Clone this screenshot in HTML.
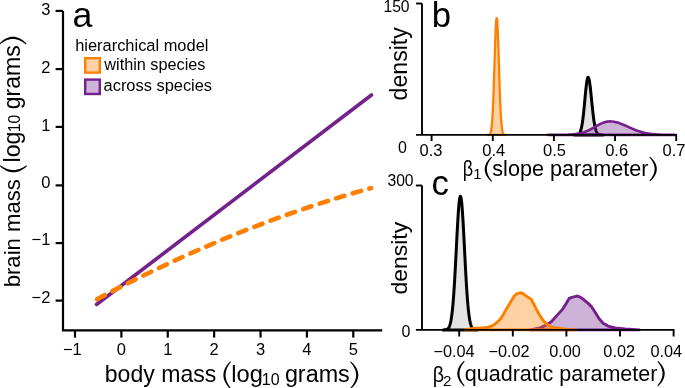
<!DOCTYPE html>
<html><head><meta charset="utf-8"><style>
html,body{margin:0;padding:0;background:#fff;width:685px;height:388px;overflow:hidden}
svg{display:block;position:absolute;left:0;top:0;will-change:transform}
svg text{font-family:"Liberation Sans", sans-serif;fill:#000}
</style></head><body>
<svg width="685" height="388" viewBox="0 0 685 388">
<path d="M63,10.9 L63,330.4 L382.2,330.4" fill="none" stroke="#000" stroke-width="2.2" stroke-linejoin="miter" stroke-linecap="butt"/>
<line x1="55.6" y1="10.9" x2="63" y2="10.9" stroke="#000" stroke-width="2.2" stroke-linecap="butt" />
<line x1="55.6" y1="69.1" x2="63" y2="69.1" stroke="#000" stroke-width="2.2" stroke-linecap="butt" />
<line x1="55.6" y1="126.9" x2="63" y2="126.9" stroke="#000" stroke-width="2.2" stroke-linecap="butt" />
<line x1="55.6" y1="185.4" x2="63" y2="185.4" stroke="#000" stroke-width="2.2" stroke-linecap="butt" />
<line x1="55.6" y1="243.1" x2="63" y2="243.1" stroke="#000" stroke-width="2.2" stroke-linecap="butt" />
<line x1="55.6" y1="300.6" x2="63" y2="300.6" stroke="#000" stroke-width="2.2" stroke-linecap="butt" />
<text id="ay0" x="50.4" y="15.3" font-size="16.5" text-anchor="end" >3</text>
<text id="ay1" x="50.4" y="73.3" font-size="16.5" text-anchor="end" >2</text>
<text id="ay2" x="50.4" y="131.0" font-size="16.5" text-anchor="end" >1</text>
<text id="ay3" x="50.4" y="188.0" font-size="16.5" text-anchor="end" >0</text>
<text id="ay4" x="50.4" y="245.0" font-size="16.5" text-anchor="end" >&#8722;1</text>
<text id="ay5" x="50.4" y="302.8" font-size="16.5" text-anchor="end" >&#8722;2</text>
<line x1="75.0" y1="330.4" x2="75.0" y2="337.6" stroke="#000" stroke-width="2.2" stroke-linecap="butt" />
<text id="ax0" x="72.4" y="354.8" font-size="16.5" text-anchor="middle" >&#8722;1</text>
<line x1="121.38" y1="330.4" x2="121.38" y2="337.6" stroke="#000" stroke-width="2.2" stroke-linecap="butt" />
<text id="ax1" x="121.38" y="354.8" font-size="16.5" text-anchor="middle" >0</text>
<line x1="167.76" y1="330.4" x2="167.76" y2="337.6" stroke="#000" stroke-width="2.2" stroke-linecap="butt" />
<text id="ax2" x="167.76" y="354.8" font-size="16.5" text-anchor="middle" >1</text>
<line x1="214.14000000000001" y1="330.4" x2="214.14000000000001" y2="337.6" stroke="#000" stroke-width="2.2" stroke-linecap="butt" />
<text id="ax3" x="214.14" y="354.8" font-size="16.5" text-anchor="middle" >2</text>
<line x1="260.52" y1="330.4" x2="260.52" y2="337.6" stroke="#000" stroke-width="2.2" stroke-linecap="butt" />
<text id="ax4" x="260.52" y="354.8" font-size="16.5" text-anchor="middle" >3</text>
<line x1="306.9" y1="330.4" x2="306.9" y2="337.6" stroke="#000" stroke-width="2.2" stroke-linecap="butt" />
<text id="ax5" x="306.9" y="354.8" font-size="16.5" text-anchor="middle" >4</text>
<line x1="353.28000000000003" y1="330.4" x2="353.28000000000003" y2="337.6" stroke="#000" stroke-width="2.2" stroke-linecap="butt" />
<text id="ax6" x="353.28" y="354.8" font-size="16.5" text-anchor="middle" >5</text>
<line x1="96.5" y1="304.5" x2="371.5" y2="95.0" stroke="#74218C" stroke-width="3.6" stroke-linecap="round"/>
<path d="M97.10,299.22 Q234.10,226.09 371.10,188.07" fill="none" stroke="#FF7F00" stroke-width="4.6" stroke-linecap="round" stroke-dasharray="8.66 8.66"/>
<text id="la" transform="translate(72.47,26.84) scale(1.0211,1.0211)" font-family="'Liberation Sans', sans-serif" font-size="35">a</text>
<text id="leg0" transform="translate(75.15,50.50) scale(0.9962,0.9962)" font-family="'Liberation Sans', sans-serif" font-size="16.5">hierarchical model</text>
<rect x="85.2" y="58.2" width="14.6" height="14.4" fill="rgba(255,127,0,0.35)" stroke="#FF7F00" stroke-width="2.4"/>
<rect x="85.2" y="79.6" width="14.6" height="14.4" fill="rgba(116,33,140,0.35)" stroke="#74218C" stroke-width="2.4"/>
<text id="leg1" transform="translate(104.30,70.10) scale(0.9853,0.9853)" font-family="'Liberation Sans', sans-serif" font-size="16.5">within species</text>
<text id="leg2" transform="translate(103.55,91.10) scale(0.9949,0.9949)" font-family="'Liberation Sans', sans-serif" font-size="16.5">across species</text>
<text id="xa1" transform="translate(104.80,381.60) scale(1.0023,1.0023)" font-family="'Liberation Sans', sans-serif" font-size="23">body mass</text>
<path id="xa2" d="M230.87,362.03 L230.33,362.72 L229.82,363.41 L229.34,364.10 L228.90,364.78 L228.48,365.46 L228.09,366.13 L227.74,366.80 L227.41,367.46 L227.11,368.12 L226.84,368.78 L226.60,369.43 L226.39,370.07 L226.20,370.71 L226.04,371.35 L225.90,371.98 L225.79,372.61 L225.71,373.23 L225.65,373.86 L225.61,374.48 L225.60,375.10 L225.61,375.72 L225.65,376.34 L225.71,376.97 L225.79,377.59 L225.90,378.22 L226.04,378.85 L226.20,379.49 L226.39,380.13 L226.60,380.77 L226.84,381.42 L227.11,382.08 L227.41,382.74 L227.74,383.40 L228.09,384.07 L228.48,384.74 L228.90,385.42 L229.34,386.10 L229.82,386.79 L230.33,387.48 L230.87,388.17 L230.13,388.83 L229.50,388.18 L228.90,387.53 L228.33,386.88 L227.78,386.22 L227.27,385.56 L226.79,384.89 L226.33,384.22 L225.91,383.54 L225.52,382.86 L225.16,382.18 L224.83,381.49 L224.53,380.79 L224.27,380.09 L224.04,379.39 L223.85,378.68 L223.69,377.97 L223.56,377.25 L223.47,376.54 L223.42,375.82 L223.40,375.10 L223.42,374.38 L223.47,373.66 L223.56,372.95 L223.69,372.23 L223.85,371.52 L224.04,370.81 L224.27,370.11 L224.53,369.41 L224.83,368.71 L225.16,368.02 L225.52,367.34 L225.91,366.66 L226.33,365.98 L226.79,365.31 L227.27,364.64 L227.78,363.98 L228.33,363.32 L228.90,362.67 L229.50,362.02 L230.13,361.37 Z" fill="#000"/>
<text id="xa3" transform="translate(231.25,381.60) scale(1.0306,1.0306)" font-family="'Liberation Sans', sans-serif" font-size="23">log</text>
<text id="xa4" transform="translate(261.76,385.30) scale(1.0712,1.0712)" font-family="'Liberation Sans', sans-serif" font-size="15">10</text>
<text id="xa5" transform="translate(284.88,381.60) scale(1.0161,1.0161)" font-family="'Liberation Sans', sans-serif" font-size="23">grams</text>
<path id="xa6" d="M350.15,362.05 L350.76,362.75 L351.33,363.44 L351.87,364.12 L352.38,364.81 L352.85,365.49 L353.28,366.16 L353.69,366.83 L354.06,367.50 L354.39,368.16 L354.70,368.81 L354.97,369.46 L355.21,370.11 L355.42,370.74 L355.61,371.38 L355.76,372.01 L355.88,372.63 L355.98,373.25 L356.05,373.87 L356.09,374.48 L356.10,375.10 L356.09,375.72 L356.05,376.33 L355.98,376.95 L355.88,377.57 L355.76,378.19 L355.61,378.82 L355.42,379.46 L355.21,380.09 L354.97,380.74 L354.70,381.39 L354.39,382.04 L354.06,382.70 L353.69,383.37 L353.28,384.04 L352.85,384.71 L352.38,385.39 L351.87,386.08 L351.33,386.76 L350.76,387.45 L350.15,388.15 L350.85,388.85 L351.55,388.21 L352.21,387.56 L352.85,386.90 L353.45,386.25 L354.01,385.59 L354.55,384.92 L355.05,384.25 L355.52,383.58 L355.95,382.90 L356.35,382.21 L356.72,381.52 L357.04,380.83 L357.33,380.12 L357.59,379.42 L357.80,378.71 L357.98,377.99 L358.12,377.27 L358.22,376.55 L358.28,375.82 L358.30,375.10 L358.28,374.38 L358.22,373.65 L358.12,372.93 L357.98,372.21 L357.80,371.49 L357.59,370.78 L357.33,370.08 L357.04,369.37 L356.72,368.68 L356.35,367.99 L355.95,367.30 L355.52,366.62 L355.05,365.95 L354.55,365.28 L354.01,364.61 L353.45,363.95 L352.85,363.30 L352.21,362.64 L351.55,361.99 L350.85,361.35 Z" fill="#000"/>
<text id="ya1" transform="translate(20.40,287.34) rotate(-90) scale(0.9633,0.9633)" font-family="'Liberation Sans', sans-serif" font-size="23">brain mass</text>
<path id="ya2" d="M0.32,165.21 L1.01,165.71 L1.70,166.17 L2.39,166.61 L3.07,167.01 L3.75,167.39 L4.42,167.74 L5.09,168.07 L5.75,168.36 L6.41,168.63 L7.07,168.88 L7.72,169.09 L8.36,169.29 L9.00,169.46 L9.64,169.60 L10.27,169.73 L10.90,169.82 L11.53,169.90 L12.15,169.96 L12.78,169.99 L13.40,170.00 L14.02,169.99 L14.65,169.96 L15.27,169.90 L15.90,169.82 L16.53,169.73 L17.16,169.60 L17.80,169.46 L18.44,169.29 L19.08,169.09 L19.73,168.88 L20.39,168.63 L21.05,168.36 L21.71,168.07 L22.38,167.74 L23.05,167.39 L23.73,167.01 L24.41,166.61 L25.10,166.17 L25.79,165.71 L26.48,165.21 L27.12,165.99 L26.47,166.57 L25.82,167.14 L25.17,167.67 L24.51,168.18 L23.85,168.66 L23.18,169.12 L22.51,169.54 L21.83,169.94 L21.15,170.31 L20.47,170.65 L19.78,170.96 L19.08,171.24 L18.38,171.48 L17.68,171.70 L16.97,171.88 L16.26,172.03 L15.55,172.15 L14.83,172.23 L14.12,172.28 L13.40,172.30 L12.68,172.28 L11.97,172.23 L11.25,172.15 L10.54,172.03 L9.83,171.88 L9.12,171.70 L8.42,171.48 L7.72,171.24 L7.02,170.96 L6.33,170.65 L5.65,170.31 L4.97,169.94 L4.29,169.54 L3.62,169.12 L2.95,168.66 L2.29,168.18 L1.63,167.67 L0.98,167.14 L0.33,166.57 L-0.32,165.99 Z" fill="#000"/>
<text id="ya3" transform="translate(20.40,162.51) rotate(-90) scale(1.0090,1.0090)" font-family="'Liberation Sans', sans-serif" font-size="23">log</text>
<text id="ya4" transform="translate(19.50,132.21) rotate(-90) scale(1.0441,1.0441)" font-family="'Liberation Sans', sans-serif" font-size="15">10</text>
<text id="ya5" transform="translate(20.20,109.20) rotate(-90) scale(1.0016,1.0016)" font-family="'Liberation Sans', sans-serif" font-size="23">grams</text>
<path id="ya6" d="M-0.16,44.56 L0.54,43.99 L1.23,43.45 L1.92,42.95 L2.60,42.47 L3.28,42.03 L3.96,41.62 L4.63,41.25 L5.30,40.90 L5.96,40.59 L6.61,40.30 L7.26,40.05 L7.90,39.83 L8.54,39.63 L9.18,39.46 L9.80,39.32 L10.43,39.20 L11.05,39.11 L11.67,39.05 L12.28,39.01 L12.90,39.00 L13.52,39.01 L14.13,39.05 L14.75,39.11 L15.37,39.20 L16.00,39.32 L16.62,39.46 L17.26,39.63 L17.90,39.83 L18.54,40.05 L19.19,40.30 L19.84,40.59 L20.50,40.90 L21.17,41.25 L21.84,41.62 L22.52,42.03 L23.20,42.47 L23.88,42.95 L24.57,43.45 L25.26,43.99 L25.96,44.56 L26.64,43.84 L26.00,43.17 L25.35,42.54 L24.70,41.93 L24.04,41.36 L23.38,40.81 L22.72,40.30 L22.05,39.82 L21.38,39.37 L20.70,38.95 L20.01,38.57 L19.32,38.22 L18.62,37.91 L17.92,37.63 L17.22,37.38 L16.50,37.18 L15.79,37.01 L15.07,36.87 L14.35,36.78 L13.62,36.72 L12.90,36.70 L12.18,36.72 L11.45,36.78 L10.73,36.87 L10.01,37.01 L9.30,37.18 L8.58,37.38 L7.88,37.63 L7.18,37.91 L6.48,38.22 L5.79,38.57 L5.10,38.95 L4.42,39.37 L3.75,39.82 L3.08,40.30 L2.42,40.81 L1.76,41.36 L1.10,41.93 L0.45,42.54 L-0.20,43.17 L-0.84,43.84 Z" fill="#000"/>
<path d="M422,3.5 L422,134.9" fill="none" stroke="#000" stroke-width="1.9"/>
<line x1="416.1" y1="3.5" x2="422" y2="3.5" stroke="#000" stroke-width="1.9" stroke-linecap="butt" />
<path d="M487.90,134.90 L487.90,134.86 L488.01,134.85 L488.12,134.84 L488.23,134.83 L488.34,134.81 L488.45,134.80 L488.56,134.77 L488.67,134.75 L488.79,134.72 L488.90,134.68 L489.01,134.64 L489.12,134.59 L489.23,134.53 L489.34,134.47 L489.45,134.39 L489.56,134.30 L489.67,134.19 L489.78,134.07 L489.89,133.93 L490.00,133.77 L490.11,133.58 L490.22,133.37 L490.34,133.12 L490.45,132.85 L490.56,132.54 L490.67,132.18 L490.78,131.78 L490.89,131.34 L491.00,130.83 L491.11,130.27 L491.22,129.65 L491.33,128.96 L491.44,128.19 L491.55,127.34 L491.66,126.41 L491.77,125.38 L491.88,124.26 L492.00,123.04 L492.11,121.71 L492.22,120.26 L492.33,118.71 L492.44,117.02 L492.55,115.22 L492.66,113.29 L492.77,111.23 L492.88,109.03 L492.99,106.71 L493.10,104.25 L493.21,101.66 L493.32,98.95 L493.43,96.11 L493.55,93.16 L493.66,90.09 L493.77,86.92 L493.88,83.66 L493.99,80.31 L494.10,76.89 L494.21,73.41 L494.32,69.89 L494.43,66.34 L494.54,62.78 L494.65,59.23 L494.76,55.70 L494.87,52.22 L494.98,48.80 L495.09,45.47 L495.21,42.24 L495.32,39.14 L495.43,36.19 L495.54,33.40 L495.65,30.80 L495.76,28.40 L495.87,26.22 L495.98,24.28 L496.09,22.58 L496.20,21.15 L496.31,20.00 L496.42,19.12 L496.53,18.53 L496.64,18.24 L496.76,18.24 L496.87,18.53 L496.98,19.12 L497.09,20.00 L497.20,21.15 L497.31,22.58 L497.42,24.28 L497.53,26.22 L497.64,28.40 L497.75,30.80 L497.86,33.40 L497.97,36.19 L498.08,39.14 L498.19,42.24 L498.31,45.47 L498.42,48.80 L498.53,52.22 L498.64,55.70 L498.75,59.23 L498.86,62.78 L498.97,66.34 L499.08,69.89 L499.19,73.41 L499.30,76.89 L499.41,80.31 L499.52,83.66 L499.63,86.92 L499.74,90.09 L499.85,93.16 L499.97,96.11 L500.08,98.95 L500.19,101.66 L500.30,104.25 L500.41,106.71 L500.52,109.03 L500.63,111.23 L500.74,113.29 L500.85,115.22 L500.96,117.02 L501.07,118.71 L501.18,120.26 L501.29,121.71 L501.40,123.04 L501.52,124.26 L501.63,125.38 L501.74,126.41 L501.85,127.34 L501.96,128.19 L502.07,128.96 L502.18,129.65 L502.29,130.27 L502.40,130.83 L502.51,131.34 L502.62,131.78 L502.73,132.18 L502.84,132.54 L502.95,132.85 L503.06,133.12 L503.18,133.37 L503.29,133.58 L503.40,133.77 L503.51,133.93 L503.62,134.07 L503.73,134.19 L503.84,134.30 L503.95,134.39 L504.06,134.47 L504.17,134.53 L504.28,134.59 L504.39,134.64 L504.50,134.68 L504.61,134.72 L504.73,134.75 L504.84,134.77 L504.95,134.80 L505.06,134.81 L505.17,134.83 L505.28,134.84 L505.39,134.85 L505.50,134.86 L505.50,134.90 Z" fill="rgba(255,127,0,0.35)" stroke="#FF7F00" stroke-width="2.3" stroke-linejoin="round"/>
<path d="M574.45,134.90 L574.45,134.89 L574.63,134.89 L574.81,134.89 L574.98,134.88 L575.16,134.88 L575.34,134.87 L575.52,134.87 L575.70,134.86 L575.88,134.85 L576.05,134.84 L576.23,134.83 L576.41,134.81 L576.59,134.79 L576.77,134.77 L576.95,134.74 L577.12,134.71 L577.30,134.67 L577.48,134.62 L577.66,134.57 L577.84,134.51 L578.02,134.43 L578.19,134.35 L578.37,134.25 L578.55,134.13 L578.73,134.00 L578.91,133.85 L579.09,133.67 L579.26,133.47 L579.44,133.24 L579.62,132.98 L579.80,132.69 L579.98,132.36 L580.16,132.00 L580.33,131.58 L580.51,131.13 L580.69,130.62 L580.87,130.05 L581.05,129.43 L581.23,128.75 L581.40,128.00 L581.58,127.19 L581.76,126.31 L581.94,125.35 L582.12,124.32 L582.30,123.21 L582.47,122.03 L582.65,120.77 L582.83,119.43 L583.01,118.02 L583.19,116.53 L583.37,114.97 L583.54,113.34 L583.72,111.66 L583.90,109.91 L584.08,108.11 L584.26,106.28 L584.43,104.40 L584.61,102.50 L584.79,100.59 L584.97,98.68 L585.15,96.77 L585.33,94.88 L585.50,93.03 L585.68,91.22 L585.86,89.46 L586.04,87.79 L586.22,86.19 L586.40,84.70 L586.57,83.31 L586.75,82.04 L586.93,80.91 L587.11,79.91 L587.29,79.07 L587.47,78.39 L587.64,77.86 L587.82,77.51 L588.00,77.33 L588.18,77.31 L588.36,77.46 L588.54,77.74 L588.71,78.18 L588.89,78.76 L589.07,79.47 L589.25,80.32 L589.43,81.30 L589.61,82.39 L589.78,83.60 L589.96,84.90 L590.14,86.30 L590.32,87.79 L590.50,89.34 L590.68,90.96 L590.85,92.63 L591.03,94.35 L591.21,96.09 L591.39,97.86 L591.57,99.63 L591.75,101.41 L591.92,103.18 L592.10,104.94 L592.28,106.67 L592.46,108.37 L592.64,110.04 L592.82,111.66 L592.99,113.22 L593.17,114.74 L593.35,116.20 L593.53,117.60 L593.71,118.93 L593.88,120.20 L594.06,121.41 L594.24,122.55 L594.42,123.62 L594.60,124.62 L594.78,125.56 L594.95,126.44 L595.13,127.25 L595.31,128.00 L595.49,128.70 L595.67,129.34 L595.85,129.93 L596.02,130.46 L596.20,130.95 L596.38,131.39 L596.56,131.80 L596.74,132.16 L596.92,132.49 L597.09,132.78 L597.27,133.04 L597.45,133.28 L597.63,133.48 L597.81,133.67 L597.99,133.83 L598.16,133.98 L598.34,134.10 L598.52,134.22 L598.70,134.31 L598.88,134.40 L599.06,134.47 L599.23,134.53 L599.41,134.59 L599.59,134.64 L599.77,134.68 L599.95,134.71 L600.13,134.74 L600.30,134.77 L600.48,134.79 L600.66,134.81 L600.84,134.82 L601.02,134.84 L601.20,134.85 L601.37,134.86 L601.55,134.86 L601.73,134.87 L601.91,134.88 L602.09,134.88 L602.27,134.88 L602.44,134.89 L602.62,134.89 L602.80,134.89 L602.80,134.90 Z" fill="rgba(0,0,0,0.11)" stroke="#000" stroke-width="3.0" stroke-linejoin="round"/>
<path d="M548.00,134.90 L548.00,134.90 L548.80,134.90 L549.60,134.90 L550.40,134.90 L551.19,134.90 L551.99,134.90 L552.79,134.89 L553.59,134.89 L554.39,134.89 L555.19,134.89 L555.99,134.89 L556.79,134.88 L557.58,134.88 L558.38,134.87 L559.18,134.87 L559.98,134.86 L560.78,134.86 L561.58,134.85 L562.38,134.84 L563.18,134.82 L563.97,134.81 L564.77,134.79 L565.57,134.77 L566.37,134.75 L567.17,134.72 L567.97,134.69 L568.77,134.65 L569.57,134.61 L570.36,134.57 L571.16,134.51 L571.96,134.45 L572.76,134.38 L573.56,134.31 L574.36,134.22 L575.16,134.12 L575.96,134.01 L576.75,133.89 L577.55,133.76 L578.35,133.61 L579.15,133.45 L579.95,133.28 L580.75,133.09 L581.55,132.88 L582.35,132.65 L583.14,132.41 L583.94,132.15 L584.74,131.87 L585.54,131.57 L586.34,131.25 L587.14,130.92 L587.94,130.57 L588.74,130.20 L589.53,129.82 L590.33,129.42 L591.13,129.01 L591.93,128.58 L592.73,128.15 L593.53,127.71 L594.33,127.26 L595.13,126.81 L595.92,126.36 L596.72,125.91 L597.52,125.47 L598.32,125.03 L599.12,124.61 L599.92,124.20 L600.72,123.81 L601.52,123.43 L602.31,123.08 L603.11,122.76 L603.91,122.47 L604.71,122.21 L605.51,121.98 L606.31,121.79 L607.11,121.63 L607.91,121.51 L608.70,121.44 L609.50,121.40 L610.30,121.41 L611.10,121.44 L611.90,121.49 L612.70,121.57 L613.50,121.68 L614.30,121.81 L615.09,121.97 L615.89,122.15 L616.69,122.35 L617.49,122.58 L618.29,122.82 L619.09,123.08 L619.89,123.36 L620.69,123.66 L621.48,123.96 L622.28,124.29 L623.08,124.62 L623.88,124.96 L624.68,125.31 L625.48,125.66 L626.28,126.02 L627.08,126.38 L627.87,126.75 L628.67,127.11 L629.47,127.47 L630.27,127.83 L631.07,128.18 L631.87,128.53 L632.67,128.88 L633.47,129.21 L634.26,129.54 L635.06,129.86 L635.86,130.17 L636.66,130.47 L637.46,130.75 L638.26,131.03 L639.06,131.30 L639.86,131.55 L640.65,131.79 L641.45,132.02 L642.25,132.24 L643.05,132.45 L643.85,132.64 L644.65,132.83 L645.45,133.00 L646.25,133.16 L647.04,133.31 L647.84,133.45 L648.64,133.58 L649.44,133.71 L650.24,133.82 L651.04,133.92 L651.84,134.02 L652.64,134.10 L653.43,134.18 L654.23,134.26 L655.03,134.33 L655.83,134.39 L656.63,134.44 L657.43,134.49 L658.23,134.54 L659.03,134.58 L659.82,134.62 L660.62,134.65 L661.42,134.68 L662.22,134.71 L663.02,134.73 L663.82,134.75 L664.62,134.77 L665.42,134.79 L666.21,134.80 L667.01,134.81 L667.81,134.83 L668.61,134.84 L669.41,134.84 L670.21,134.85 L671.01,134.86 L671.81,134.86 L672.60,134.87 L673.40,134.87 L674.20,134.88 L675.00,134.88 L675.00,134.90 Z" fill="rgba(116,33,140,0.35)" stroke="#74218C" stroke-width="2.6" stroke-linejoin="round"/>
<path d="M416,134.9 L677,134.9" stroke="#000" stroke-width="1.9"/>
<line x1="431.6" y1="134.9" x2="431.6" y2="141" stroke="#000" stroke-width="1.9" stroke-linecap="butt" />
<text id="bx0" x="431.0" y="155.6" font-size="16.5" text-anchor="middle" >0.3</text>
<line x1="492.8" y1="134.9" x2="492.8" y2="141" stroke="#000" stroke-width="1.9" stroke-linecap="butt" />
<text id="bx1" x="493.8" y="155.6" font-size="16.5" text-anchor="middle" >0.4</text>
<line x1="553.9" y1="134.9" x2="553.9" y2="141" stroke="#000" stroke-width="1.9" stroke-linecap="butt" />
<text id="bx2" x="554.5" y="155.6" font-size="16.5" text-anchor="middle" >0.5</text>
<line x1="615.0" y1="134.9" x2="615.0" y2="141" stroke="#000" stroke-width="1.9" stroke-linecap="butt" />
<text id="bx3" x="616.6" y="155.6" font-size="16.5" text-anchor="middle" >0.6</text>
<line x1="676.2" y1="134.9" x2="676.2" y2="141" stroke="#000" stroke-width="1.9" stroke-linecap="butt" />
<text id="bx4" x="674.0" y="155.6" font-size="16.5" text-anchor="middle" >0.7</text>
<text id="b150" x="409.6" y="11.6" font-size="15.7" text-anchor="end" >150</text>
<text id="b0" x="406.8" y="153.2" font-size="16" text-anchor="end" >0</text>
<text id="lb" transform="translate(431.77,26.85) scale(0.9922,0.9922)" font-family="'Liberation Sans', sans-serif" font-size="35">b</text>
<text id="yb" transform="translate(407.00,100.41) rotate(-90) scale(1.0063,1.0063)" font-family="'Liberation Sans', sans-serif" font-size="23">density</text>
<text id="xb1" transform="translate(462.79,175.51) scale(0.8095,0.9756)" font-family="'Liberation Sans', sans-serif" font-size="22.3">&#946;</text>
<text id="xb2" transform="translate(473.18,179.30) scale(1.0200,1.0200)" font-family="'Liberation Sans', sans-serif" font-size="14.5">1</text>
<path id="xb3" d="M492.06,157.45 L491.53,158.08 L491.03,158.70 L490.56,159.32 L490.12,159.94 L489.71,160.56 L489.33,161.17 L488.98,161.77 L488.66,162.37 L488.37,162.97 L488.11,163.56 L487.87,164.14 L487.66,164.72 L487.48,165.29 L487.32,165.86 L487.19,166.42 L487.09,166.98 L487.00,167.54 L486.95,168.10 L486.91,168.65 L486.90,169.20 L486.91,169.75 L486.95,170.30 L487.00,170.86 L487.09,171.42 L487.19,171.98 L487.32,172.54 L487.48,173.11 L487.66,173.68 L487.87,174.26 L488.11,174.84 L488.37,175.43 L488.66,176.03 L488.98,176.63 L489.33,177.23 L489.71,177.84 L490.12,178.46 L490.56,179.08 L491.03,179.70 L491.53,180.32 L492.06,180.95 L491.34,181.65 L490.72,181.07 L490.13,180.48 L489.57,179.89 L489.04,179.30 L488.53,178.71 L488.05,178.11 L487.61,177.50 L487.19,176.89 L486.80,176.28 L486.44,175.66 L486.12,175.03 L485.83,174.40 L485.57,173.76 L485.34,173.12 L485.14,172.47 L484.99,171.82 L484.86,171.17 L484.77,170.52 L484.72,169.86 L484.70,169.20 L484.72,168.54 L484.77,167.88 L484.86,167.23 L484.99,166.58 L485.14,165.93 L485.34,165.28 L485.57,164.64 L485.83,164.00 L486.12,163.37 L486.44,162.74 L486.80,162.12 L487.19,161.51 L487.61,160.90 L488.05,160.29 L488.53,159.69 L489.04,159.10 L489.57,158.51 L490.13,157.92 L490.72,157.33 L491.34,156.75 Z" fill="#000"/>
<text id="xb4" transform="translate(492.27,175.50) scale(0.9694,0.9694)" font-family="'Liberation Sans', sans-serif" font-size="22.3">slope parameter</text>
<path id="xb5" d="M649.35,157.35 L649.89,157.98 L650.40,158.60 L650.88,159.21 L651.32,159.83 L651.74,160.44 L652.13,161.04 L652.48,161.64 L652.81,162.24 L653.11,162.83 L653.37,163.41 L653.61,163.99 L653.83,164.57 L654.01,165.13 L654.17,165.70 L654.30,166.26 L654.41,166.81 L654.49,167.36 L654.55,167.91 L654.59,168.45 L654.60,169.00 L654.59,169.55 L654.55,170.09 L654.49,170.64 L654.41,171.19 L654.30,171.74 L654.17,172.30 L654.01,172.87 L653.83,173.43 L653.61,174.01 L653.37,174.59 L653.11,175.17 L652.81,175.76 L652.48,176.36 L652.13,176.96 L651.74,177.56 L651.32,178.17 L650.88,178.79 L650.40,179.40 L649.89,180.02 L649.35,180.65 L650.05,181.35 L650.68,180.78 L651.28,180.20 L651.85,179.61 L652.40,179.03 L652.91,178.44 L653.39,177.84 L653.85,177.24 L654.27,176.64 L654.66,176.03 L655.03,175.41 L655.36,174.79 L655.65,174.17 L655.92,173.53 L656.15,172.90 L656.35,172.26 L656.51,171.61 L656.64,170.96 L656.73,170.31 L656.78,169.65 L656.80,169.00 L656.78,168.35 L656.73,167.69 L656.64,167.04 L656.51,166.39 L656.35,165.74 L656.15,165.10 L655.92,164.47 L655.65,163.83 L655.36,163.21 L655.03,162.59 L654.66,161.97 L654.27,161.36 L653.85,160.76 L653.39,160.16 L652.91,159.56 L652.40,158.97 L651.85,158.39 L651.28,157.80 L650.68,157.22 L650.05,156.65 Z" fill="#000"/>
<path d="M422,185.5 L422,329.9" fill="none" stroke="#000" stroke-width="1.9"/>
<line x1="415.9" y1="185.5" x2="422" y2="185.5" stroke="#000" stroke-width="1.9" stroke-linecap="butt" />
<path d="M443.18,329.90 L443.18,329.88 L443.40,329.88 L443.61,329.87 L443.83,329.86 L444.05,329.85 L444.26,329.84 L444.48,329.83 L444.70,329.81 L444.91,329.79 L445.13,329.77 L445.35,329.74 L445.56,329.71 L445.78,329.67 L446.00,329.62 L446.21,329.56 L446.43,329.50 L446.65,329.42 L446.86,329.33 L447.08,329.22 L447.30,329.09 L447.51,328.94 L447.73,328.77 L447.95,328.58 L448.16,328.35 L448.38,328.08 L448.60,327.78 L448.81,327.44 L449.03,327.05 L449.24,326.60 L449.46,326.10 L449.68,325.53 L449.89,324.89 L450.11,324.17 L450.33,323.36 L450.54,322.47 L450.76,321.47 L450.98,320.37 L451.19,319.16 L451.41,317.82 L451.63,316.36 L451.84,314.76 L452.06,313.02 L452.28,311.13 L452.49,309.08 L452.71,306.88 L452.93,304.52 L453.14,302.00 L453.36,299.30 L453.58,296.45 L453.79,293.42 L454.01,290.24 L454.23,286.89 L454.44,283.40 L454.66,279.76 L454.88,275.98 L455.09,272.09 L455.31,268.08 L455.53,263.98 L455.74,259.81 L455.96,255.58 L456.18,251.31 L456.39,247.03 L456.61,242.76 L456.83,238.53 L457.04,234.36 L457.26,230.27 L457.48,226.30 L457.69,222.47 L457.91,218.82 L458.13,215.35 L458.34,212.11 L458.56,209.11 L458.78,206.39 L458.99,203.95 L459.21,201.82 L459.43,200.02 L459.64,198.56 L459.86,197.46 L460.08,196.72 L460.29,196.35 L460.51,196.35 L460.72,196.72 L460.94,197.46 L461.16,198.56 L461.37,200.02 L461.59,201.82 L461.81,203.95 L462.02,206.39 L462.24,209.11 L462.46,212.11 L462.67,215.35 L462.89,218.82 L463.11,222.47 L463.32,226.30 L463.54,230.27 L463.76,234.36 L463.97,238.53 L464.19,242.76 L464.41,247.03 L464.62,251.31 L464.84,255.58 L465.06,259.81 L465.27,263.98 L465.49,268.08 L465.71,272.09 L465.92,275.98 L466.14,279.76 L466.36,283.40 L466.57,286.89 L466.79,290.24 L467.01,293.42 L467.22,296.45 L467.44,299.30 L467.66,302.00 L467.87,304.52 L468.09,306.88 L468.31,309.08 L468.52,311.13 L468.74,313.02 L468.96,314.76 L469.17,316.36 L469.39,317.82 L469.61,319.16 L469.82,320.37 L470.04,321.47 L470.26,322.47 L470.47,323.36 L470.69,324.17 L470.91,324.89 L471.12,325.53 L471.34,326.10 L471.56,326.60 L471.77,327.05 L471.99,327.44 L472.20,327.78 L472.42,328.08 L472.64,328.35 L472.85,328.58 L473.07,328.77 L473.29,328.94 L473.50,329.09 L473.72,329.22 L473.94,329.33 L474.15,329.42 L474.37,329.50 L474.59,329.56 L474.80,329.62 L475.02,329.67 L475.24,329.71 L475.45,329.74 L475.67,329.77 L475.89,329.79 L476.10,329.81 L476.32,329.83 L476.54,329.84 L476.75,329.85 L476.97,329.86 L477.19,329.87 L477.40,329.88 L477.62,329.88 L477.62,329.90 Z" fill="rgba(0,0,0,0.11)" stroke="#000" stroke-width="3.0" stroke-linejoin="round"/>
<path d="M530.00,329.90 L540.00,327.90 L545.70,325.40 L551.30,321.80 L557.00,315.40 L562.70,309.10 L566.20,303.40 L569.10,298.40 L571.90,297.30 L574.70,296.70 L577.60,296.00 L580.40,297.30 L583.90,299.80 L588.20,303.40 L591.70,306.90 L595.30,312.60 L598.80,318.30 L603.10,323.20 L608.00,326.10 L615.10,327.90 L625.00,328.90 L639.50,329.90 Z" fill="rgba(116,33,140,0.35)" stroke="#74218C" stroke-width="2.9" stroke-linejoin="round"/>
<path d="M465.00,329.90 L472.80,328.50 L481.30,327.90 L488.40,327.10 L492.70,325.60 L496.90,322.50 L500.50,319.00 L504.00,313.30 L507.60,306.90 L511.10,301.30 L514.60,295.60 L517.50,293.50 L521.00,292.80 L523.10,293.50 L526.00,295.90 L528.80,297.70 L530.90,299.10 L533.80,304.10 L536.60,309.80 L540.20,316.10 L543.70,321.10 L547.20,324.60 L551.50,327.10 L560.00,328.50 L568.00,329.40 L576.00,329.90 Z" fill="rgba(255,127,0,0.35)" stroke="#FF7F00" stroke-width="2.9" stroke-linejoin="round"/>
<path d="M415.9,329.9 L674.4,329.9" stroke="#000" stroke-width="1.9"/>
<line x1="459.2" y1="329.9" x2="459.2" y2="336.5" stroke="#000" stroke-width="1.9" stroke-linecap="butt" />
<text id="cx0" x="454.0" y="356.8" font-size="16.3" text-anchor="middle" >&#8722;0.04</text>
<line x1="512.8" y1="329.9" x2="512.8" y2="336.5" stroke="#000" stroke-width="1.9" stroke-linecap="butt" />
<text id="cx1" x="509.0" y="356.8" font-size="16.3" text-anchor="middle" >&#8722;0.02</text>
<line x1="566.4" y1="329.9" x2="566.4" y2="336.5" stroke="#000" stroke-width="1.9" stroke-linecap="butt" />
<text id="cx2" x="565.0" y="356.8" font-size="16.3" text-anchor="middle" >0.00</text>
<line x1="620.0" y1="329.9" x2="620.0" y2="336.5" stroke="#000" stroke-width="1.9" stroke-linecap="butt" />
<text id="cx3" x="619.2" y="356.8" font-size="16.3" text-anchor="middle" >0.02</text>
<line x1="673.6" y1="329.9" x2="673.6" y2="336.5" stroke="#000" stroke-width="1.9" stroke-linecap="butt" />
<text id="cx4" x="666.3" y="356.8" font-size="16.3" text-anchor="middle" >0.04</text>
<text id="c300" x="413.6" y="185.8" font-size="15.7" text-anchor="end" >300</text>
<text id="c0" x="410.3" y="336.8" font-size="16" text-anchor="end" >0</text>
<text id="lc" transform="translate(431.41,195.45) scale(0.9947,0.9947)" font-family="'Liberation Sans', sans-serif" font-size="35">c</text>
<text id="yc" transform="translate(407.00,294.40) rotate(-90) scale(0.9951,0.9951)" font-family="'Liberation Sans', sans-serif" font-size="23">density</text>
<text id="xc1" transform="translate(432.67,381.54) scale(0.8857,0.9902)" font-family="'Liberation Sans', sans-serif" font-size="22.3">&#946;</text>
<text id="xc2" transform="translate(443.01,385.60) scale(1.0500,1.0500)" font-family="'Liberation Sans', sans-serif" font-size="14.5">2</text>
<path id="xc3" d="M464.66,361.55 L464.13,362.19 L463.63,362.82 L463.16,363.46 L462.72,364.09 L462.31,364.71 L461.93,365.33 L461.58,365.95 L461.26,366.56 L460.97,367.17 L460.71,367.77 L460.47,368.37 L460.26,368.96 L460.08,369.55 L459.93,370.13 L459.79,370.71 L459.69,371.28 L459.61,371.85 L459.55,372.42 L459.51,372.98 L459.50,373.55 L459.51,374.12 L459.55,374.68 L459.61,375.25 L459.69,375.82 L459.79,376.39 L459.93,376.97 L460.08,377.55 L460.26,378.14 L460.47,378.73 L460.71,379.33 L460.97,379.93 L461.26,380.54 L461.58,381.15 L461.93,381.77 L462.31,382.39 L462.72,383.01 L463.16,383.64 L463.63,384.28 L464.13,384.91 L464.66,385.55 L463.94,386.25 L463.32,385.65 L462.73,385.05 L462.17,384.45 L461.63,383.85 L461.13,383.24 L460.65,382.62 L460.20,382.01 L459.78,381.38 L459.40,380.76 L459.04,380.12 L458.72,379.49 L458.42,378.84 L458.16,378.19 L457.94,377.54 L457.74,376.88 L457.58,376.22 L457.46,375.56 L457.37,374.89 L457.32,374.22 L457.30,373.55 L457.32,372.88 L457.37,372.21 L457.46,371.54 L457.58,370.88 L457.74,370.22 L457.94,369.56 L458.16,368.91 L458.42,368.26 L458.72,367.61 L459.04,366.98 L459.40,366.34 L459.78,365.72 L460.20,365.09 L460.65,364.48 L461.13,363.86 L461.63,363.25 L462.17,362.65 L462.73,362.05 L463.32,361.45 L463.94,360.85 Z" fill="#000"/>
<text id="xc4" transform="translate(464.73,381.20) scale(0.9660,0.9660)" font-family="'Liberation Sans', sans-serif" font-size="22.3">quadratic parameter</text>
<path id="xc5" d="M657.44,361.64 L657.96,362.28 L658.45,362.91 L658.91,363.54 L659.34,364.16 L659.74,364.78 L660.11,365.40 L660.46,366.01 L660.77,366.62 L661.06,367.22 L661.31,367.82 L661.55,368.41 L661.75,369.00 L661.93,369.58 L662.08,370.16 L662.21,370.73 L662.32,371.30 L662.40,371.86 L662.45,372.43 L662.49,372.99 L662.50,373.55 L662.49,374.11 L662.45,374.67 L662.40,375.24 L662.32,375.80 L662.21,376.37 L662.08,376.94 L661.93,377.52 L661.75,378.10 L661.55,378.69 L661.31,379.28 L661.06,379.88 L660.77,380.48 L660.46,381.09 L660.11,381.70 L659.74,382.32 L659.34,382.94 L658.91,383.56 L658.45,384.19 L657.96,384.82 L657.44,385.46 L658.16,386.14 L658.77,385.55 L659.35,384.96 L659.91,384.36 L660.43,383.76 L660.93,383.16 L661.40,382.55 L661.84,381.94 L662.25,381.32 L662.63,380.70 L662.99,380.07 L663.31,379.44 L663.59,378.80 L663.85,378.16 L664.07,377.51 L664.26,376.86 L664.42,376.20 L664.54,375.54 L664.63,374.88 L664.68,374.21 L664.70,373.55 L664.68,372.89 L664.63,372.22 L664.54,371.56 L664.42,370.90 L664.26,370.24 L664.07,369.59 L663.85,368.94 L663.59,368.30 L663.31,367.66 L662.99,367.03 L662.63,366.40 L662.25,365.78 L661.84,365.16 L661.40,364.55 L660.93,363.94 L660.43,363.34 L659.91,362.74 L659.35,362.14 L658.77,361.55 L658.16,360.96 Z" fill="#000"/>
</svg>
</body></html>
